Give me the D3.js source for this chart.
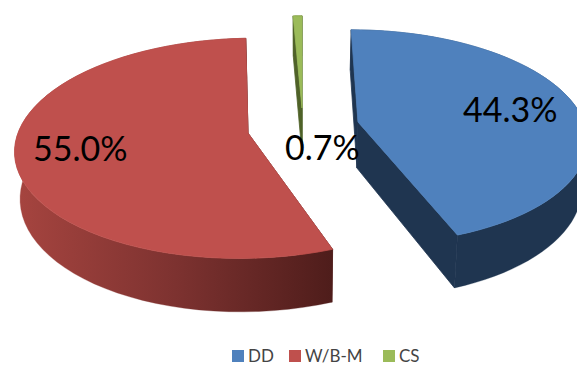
<!DOCTYPE html>
<html>
<head>
<meta charset="utf-8">
<script src="https://cdn.jsdelivr.net/npm/d3@7"></script>
<style>
html,body{margin:0;padding:0;background:#fff;overflow:hidden}
svg{display:block}
text{font-family:Lato,"Open Sans",sans-serif}
</style>
</head>
<body>
<svg id="chart" width="577" height="365"></svg>
<script>
// Shares of the three segments, clockwise from twelve o'clock.
const categories = ["DD", "W/B-M", "CS"];
const shares = [44.3, 55.0, 0.7];

const faceColors = ["#4f81bd", "#bf504d", "#9bbb59"];
const wallColors = ["#1f3550", "url(#redWall)", "#4f6228"];

// Exploded slice tips on the pie plane, and where each label sits.
const tips = [[358, 122], [248, 133], [302, 108]];
const widths = [226, 230, 230];
const heights = [105, 108, 105];
const labelAnchors = [[463, 122], [33, 161], [285, 160]];
const legendSwatchX = [232, 289, 383];

const vanishX = 302;          // horizontal centre of the perspective
const depth = 46;             // thickness of the pie at mid-plane
const tilt = 0.139;           // how strongly the near side is enlarged
const sink = 0.019;           // inward drift of the lower rim

const svg = d3.select("#chart");

const grad = svg.append("defs").append("linearGradient")
  .attr("id", "redWall").attr("gradientUnits", "userSpaceOnUse")
  .attr("x1", 20).attr("x2", 331).attr("y1", 0).attr("y2", 0);
grad.append("stop").attr("offset", 0).attr("stop-color", "#a5443f");
grad.append("stop").attr("offset", 0.5).attr("stop-color", "#7d3230");
grad.append("stop").attr("offset", 1).attr("stop-color", "#4f1d1b");

const slices = d3.pie().sort(null).value(d => d)(shares);

// Project a point on the circle (angle in radians) to the page, z=0 top, z=1 bottom.
function project(i, angle, r, z) {
  const tip = tips[i];
  const u = Math.sin(angle) * r, v = -Math.cos(angle) * r;
  const w = 1 / (1 - tilt * v);
  let x = vanishX + (tip[0] - vanishX + widths[i] * u) * w;
  const y = tip[1] + (heights[i] * v + depth * z) * w;
  x -= (x - vanishX) * sink * z;
  return [x, y];
}

const line = d3.line();
const rimAngles = (a, b) => d3.range(0, 61).map(i => a + (b - a) * i / 60);

const order = [1, 0, 2];
order.forEach(i => {
  const s = slices[i];
  const a = s.startAngle, b = s.endAngle;
  const arc = rimAngles(a, b);
  const g = svg.append("g");

  // outer rim first, then the two cut faces with a hairline stroke that closes the joint
  g.append("path").attr("fill", wallColors[i])
    .attr("stroke", wallColors[i]).attr("stroke-width", 0.3)
    .attr("d", line(
      arc.map(t => project(i, t, 1, 0))
         .concat(arc.slice().reverse().map(t => project(i, t, 1, 1)))
    ) + "Z");
  [a, b].forEach(t => {
    g.append("path").attr("fill", wallColors[i])
      .attr("stroke", wallColors[i]).attr("stroke-width", 0.8)
      .attr("d", line([
        project(i, t, 0, 0), project(i, t, 1, 0),
        project(i, t, 1, 1), project(i, t, 0, 1)
      ]) + "Z");
  });

  // top face, stroked in its own colour so the wall edge stays underneath
  g.append("path").attr("fill", faceColors[i])
    .attr("stroke", faceColors[i]).attr("stroke-width", 0.8)
    .attr("stroke-linejoin", "round")
    .attr("d", line(
      [project(i, a, 0, 0)].concat(arc.map(t => project(i, t, 1, 0)))
    ) + "Z");
});

// value labels
svg.append("g").selectAll("text").data(shares).join("text")
  .attr("x", (d, i) => labelAnchors[i][0])
  .attr("y", (d, i) => labelAnchors[i][1])
  .attr("font-size", 34)
  .attr("fill", "#000")
  .text(d => d3.format(".1f")(d) + "%");

// legend
const legend = svg.append("g").selectAll("g").data(categories).join("g")
  .attr("transform", (d, i) => `translate(${legendSwatchX[i]},350)`);
legend.append("rect").attr("width", 12).attr("height", 12)
  .attr("fill", (d, i) => faceColors[i]);
legend.append("text").attr("x", 16).attr("y", 11.5)
  .attr("font-size", 17).attr("fill", "#444").text(d => d);
</script>
</body>
</html>
